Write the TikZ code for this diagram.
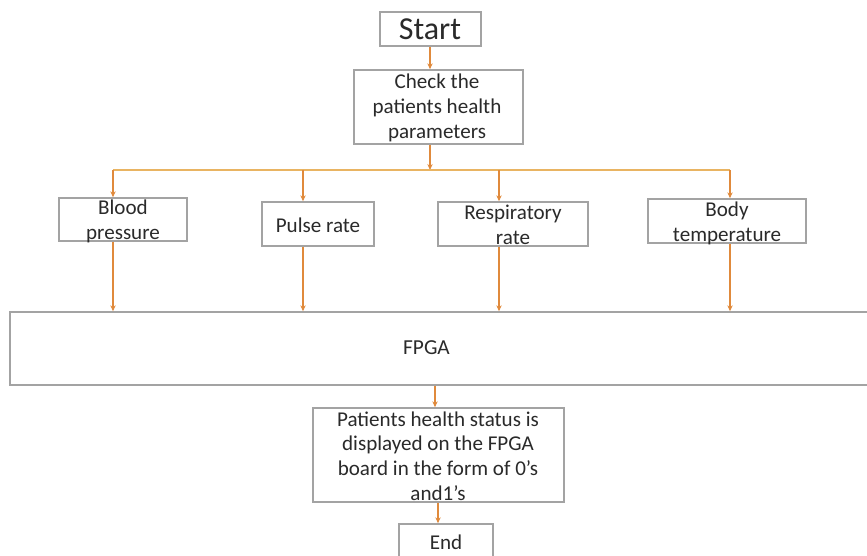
\documentclass[tikz,border=0pt]{standalone}
\usepackage{fontspec}
\setmainfont{Carlito}
\usetikzlibrary{arrows.meta,calc}
\definecolor{boxgray}{HTML}{A3A3A3}
\definecolor{arrow}{HTML}{E08A3C}
\definecolor{bus}{HTML}{E9B462}
\definecolor{txt}{HTML}{2A2A2A}
\begin{document}
\begin{tikzpicture}[x=0.75pt,y=-0.75pt,
  box/.style={draw=boxgray,line width=1.1pt,inner sep=0pt,fill=white},
  lbl/.style={text=txt,font=\fontsize{15.8pt}{18.6pt}\selectfont,align=center,inner sep=0pt},
  conn/.style={draw=arrow,line width=0.9pt,-{Stealth[length=4.5pt,width=4pt]}},
  busline/.style={draw=bus,line width=1.3pt}]
\useasboundingbox (0,0) rectangle (867,556);
% boxes
\node[box,minimum width=101*0.75pt,minimum height=34*0.75pt] (start) at (430.5,29) {};
\node[box,minimum width=169*0.75pt,minimum height=74*0.75pt] (check) at (438.5,107) {};
\node[box,minimum width=128*0.75pt,minimum height=43*0.75pt] (blood) at (123,219.5) {};
\node[box,minimum width=112*0.75pt,minimum height=44*0.75pt] (pulse) at (318,224) {};
\node[box,minimum width=150*0.75pt,minimum height=44*0.75pt] (resp) at (513,224) {};
\node[box,minimum width=158*0.75pt,minimum height=44*0.75pt] (body) at (727,221) {};
\node[box,minimum width=862*0.75pt,minimum height=73*0.75pt] (fpga) at (441,348.5) {};
\node[box,minimum width=251*0.75pt,minimum height=94*0.75pt] (status) at (438.5,455) {};
\node[box,minimum width=94*0.75pt,minimum height=40*0.75pt] (endb) at (446,544) {};
% texts
\node[lbl,font=\fontsize{24pt}{28pt}\selectfont] (tstart) at (430,29) {Start};
\node[lbl] (tcheck) at (437,108) {Check the\\patients health\\parameters};
\node[lbl] (tblood) at (123,221) {Blood\\pressure};
\node[lbl] (tpulse) at (318,225) {Pulse rate};
\node[lbl] (tresp) at (513,225) {Respiratory\\rate};
\node[lbl] (tbody) at (727,223) {Body\\temperature};
\node[lbl,font=\fontsize{16pt}{18pt}\selectfont] (tfpga) at (426.5,348) {FPGA};
\node[lbl] (tstatus) at (438,456) {Patients health status is\\displayed on the FPGA\\board in the form of 0’s\\and1’s};
\node[lbl] (tend) at (446,542) {End};
% bus coordinates
\coordinate (b0) at (430,170);
\coordinate (b1) at (113,170);
\coordinate (b2) at (303,170);
\coordinate (b3) at (499,170);
\coordinate (b4) at (730,170);
% connectors
\draw[conn] (start.south -| b0) -- (check.north -| b0);
\draw[conn] (check.south -| b0) -- (b0);
\draw[busline] (b1) -- (b4);
\draw[conn] (b1) -- (blood.north -| b1);
\draw[conn] (b2) -- (pulse.north -| b2);
\draw[conn] (b3) -- (resp.north -| b3);
\draw[conn] (b4) -- (body.north -| b4);
\draw[conn] (blood.south -| b1) -- (fpga.north -| b1);
\draw[conn] (pulse.south -| b2) -- (fpga.north -| b2);
\draw[conn] (resp.south -| b3) -- (fpga.north -| b3);
\draw[conn] (body.south -| b4) -- (fpga.north -| b4);
\coordinate (f0) at (435,385);
\draw[conn] (fpga.south -| f0) -- (status.north -| f0);
\coordinate (s0) at (438,502);
\draw[conn] (status.south -| s0) -- (endb.north -| s0);
\end{tikzpicture}
\end{document}
